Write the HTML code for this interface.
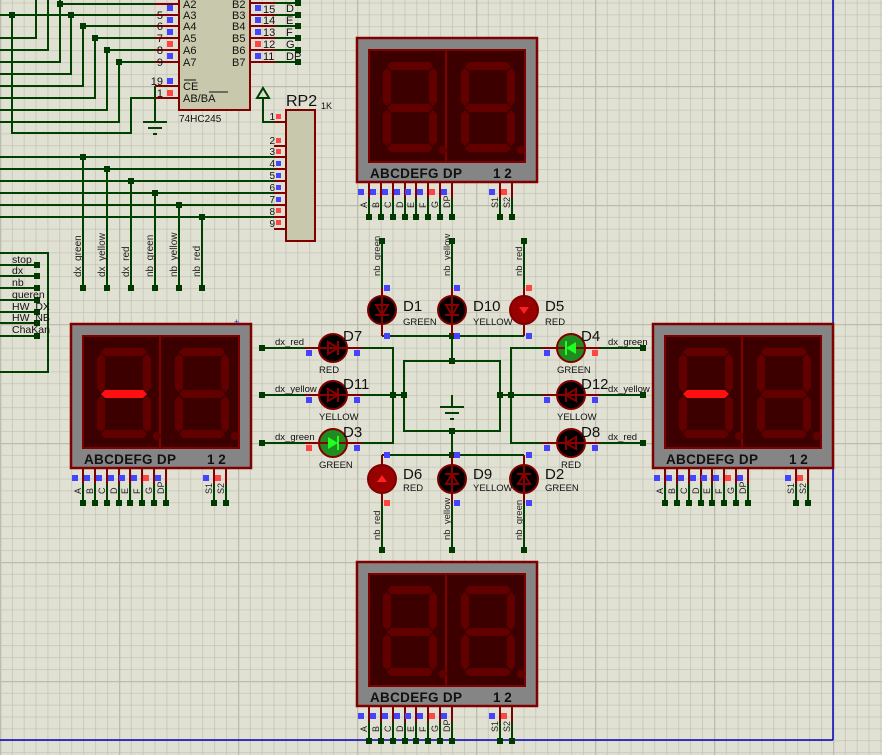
<!DOCTYPE html>
<html><head><meta charset="utf-8"><style>
html,body{margin:0;padding:0;background:#e0e0d3;}
svg{display:block;font-family:"Liberation Sans",sans-serif;}
</style></head><body>
<svg width="882" height="755" viewBox="0 0 882 755" xmlns="http://www.w3.org/2000/svg">
<defs>
<pattern id="minor" patternUnits="userSpaceOnUse" x="0" y="-33" width="11.9" height="11.9">
<path d="M0 0V11.9M0 0H11.9" stroke="#bfbfb1" stroke-width="1.3" fill="none"/>
</pattern>
<pattern id="major" patternUnits="userSpaceOnUse" x="0" y="-33" width="119" height="119">
<path d="M0 0V119M0 0H119" stroke="#bcbcae" stroke-width="2.6" fill="none"/>
</pattern>
<g id="digit" fill="#620000">
<polygon points="34,24 72,24 76,28 72,32 34,32 30,28"/>
<polygon points="34,66 72,66 76,70 72,74 34,74 30,70"/>
<polygon points="34,106 72,106 76,110 72,114 34,114 30,110"/>
<polygon points="30,30 34,34 34,64 30,68 26,64 26,34"/>
<polygon points="30,72 34,76 34,104 30,108 26,104 26,76"/>
<polygon points="76,30 80,34 80,64 76,68 72,64 72,34"/>
<polygon points="76,72 80,76 80,104 76,108 72,104 72,76"/>
<circle cx="86" cy="112" r="4"/>
</g>
<g id="pin">
<line x1="0" y1="144" x2="0" y2="160" stroke="#800000" stroke-width="2"/>
<line x1="0" y1="160" x2="0" y2="179" stroke="#004000" stroke-width="2"/>
<rect x="-3" y="176" width="6" height="6" fill="#003a00"/>
</g>
<g id="disp">
<rect x="0" y="0" width="180" height="144" fill="#858585" stroke="#800000" stroke-width="2.5"/>
<rect x="12" y="12" width="156" height="112" fill="#3d0000" stroke="#800000" stroke-width="2"/>
<line x1="89" y1="12" x2="89" y2="124" stroke="#800000" stroke-width="2"/>
<use href="#digit"/>
<use href="#digit" transform="translate(78,0)"/>
<text x="13" y="140" font-size="13.5" font-weight="bold" fill="#111" letter-spacing="0.3">ABCDEFG DP</text>
<text x="136" y="140" font-size="13.5" font-weight="bold" fill="#111">1 2</text>
<use href="#pin" x="12"/><use href="#pin" x="24"/><use href="#pin" x="36"/><use href="#pin" x="48"/>
<use href="#pin" x="59"/><use href="#pin" x="71"/><use href="#pin" x="83"/><use href="#pin" x="95"/>
<use href="#pin" x="143"/><use href="#pin" x="155"/>
<g fill="#4444ff"><rect x="1" y="151" width="6" height="6"/><rect x="13" y="151" width="6" height="6"/><rect x="25" y="151" width="6" height="6"/><rect x="37" y="151" width="6" height="6"/><rect x="48" y="151" width="6" height="6"/><rect x="60" y="151" width="6" height="6"/><rect x="84" y="151" width="6" height="6"/><rect x="132" y="151" width="6" height="6"/></g>
<g fill="#ff4444"><rect x="72" y="151" width="6" height="6"/><rect x="144" y="151" width="6" height="6"/></g>
<g font-size="9" fill="#222">
<text transform="translate(10,170) rotate(-90)">A</text><text transform="translate(22,170) rotate(-90)">B</text><text transform="translate(34,170) rotate(-90)">C</text><text transform="translate(46,170) rotate(-90)">D</text><text transform="translate(57,170) rotate(-90)">E</text><text transform="translate(69,170) rotate(-90)">F</text><text transform="translate(81,170) rotate(-90)">G</text><text transform="translate(93,170) rotate(-90)">DP</text><text transform="translate(141,170) rotate(-90)">S1</text><text transform="translate(153,170) rotate(-90)">S2</text>
</g>
</g>
<g id="diode" stroke="#8a0000" stroke-width="2" fill="none">
<line x1="-15" y1="0" x2="15" y2="0"/>
<polygon points="-5,-6 -5,6 5,0"/>
<line x1="5" y1="-7" x2="5" y2="7"/>
</g>
</defs>
<rect width="882" height="755" fill="#e0e0d3"/>
<rect width="882" height="755" fill="url(#minor)"/>
<rect width="882" height="755" fill="url(#major)"/>

<!-- blue border lines -->
<line x1="833" y1="0" x2="833" y2="740" stroke="#0000c0" stroke-width="1.5"/>
<line x1="0" y1="740" x2="833" y2="740" stroke="#0000c0" stroke-width="1.5"/>

<!-- top-left wires -->
<g stroke="#004000" stroke-width="2" fill="none">
<path d="M60 4H155"/>
<path d="M0 15H155"/>
<path d="M83 26H155M95 38H155M107 50H155M119 62H155"/>
<path d="M36 0V38H0"/>
<path d="M48 0V50H0"/>
<path d="M60 0V62H0"/>
<path d="M71 15V74H0"/>
<path d="M83 26V86H0"/>
<path d="M95 38V98H0"/>
<path d="M107 50V110H0"/>
<path d="M119 62V122H0"/>
<path d="M12 15V133H131V98H155"/>
<path d="M155 86V122"/>
<path d="M143 122H167M148 128H162M153 134H157"/>
</g>
<g fill="#003a00">
<rect x="57" y="1" width="6" height="6"/><rect x="9" y="12" width="6" height="6"/><rect x="68" y="12" width="6" height="6"/>
<rect x="80" y="23" width="6" height="6"/><rect x="92" y="35" width="6" height="6"/><rect x="104" y="47" width="6" height="6"/><rect x="116" y="59" width="6" height="6"/>
</g>
<!-- 74HC245 -->
<g stroke="#800000" stroke-width="2">
<path d="M155 4H179M155 15H179M155 26H179M155 38H179M155 50H179M155 62H179M155 86H179M155 98H179"/>
<path d="M250 3H275M250 15H275M250 26H275M250 38H275M250 50H275M250 62H275"/>
</g>
<g stroke="#004000" stroke-width="2"><path d="M275 3H298M275 15H298M275 26H298M275 38H298M275 50H298M275 62H298"/></g>
<g fill="#003a00"><rect x="295" y="0" width="6" height="6"/><rect x="295" y="12" width="6" height="6"/><rect x="295" y="23" width="6" height="6"/><rect x="295" y="35" width="6" height="6"/><rect x="295" y="47" width="6" height="6"/><rect x="295" y="59" width="6" height="6"/></g>
<rect x="179" y="-5" width="71" height="115" fill="#c8c8ac" stroke="#800000" stroke-width="2"/>
<g font-size="11" fill="#111">
<text x="183" y="8">A2</text><text x="183" y="19">A3</text><text x="183" y="30">A4</text><text x="183" y="42">A5</text><text x="183" y="54">A6</text><text x="183" y="66">A7</text>
<text x="183" y="90">CE</text><text x="183" y="102">AB/BA</text>
<text x="232" y="8">B2</text><text x="232" y="19">B3</text><text x="232" y="30">B4</text><text x="232" y="42">B5</text><text x="232" y="54">B6</text><text x="232" y="66">B7</text>
<text x="179" y="122" font-size="10">74HC245</text>
<text x="163" y="19" text-anchor="end">5</text><text x="163" y="30" text-anchor="end">6</text><text x="163" y="42" text-anchor="end">7</text><text x="163" y="54" text-anchor="end">8</text><text x="163" y="66" text-anchor="end">9</text><text x="163" y="85" text-anchor="end">19</text><text x="163" y="97" text-anchor="end">1</text>
<text x="263" y="13">15</text><text x="263" y="24">14</text><text x="263" y="36">13</text><text x="263" y="48">12</text><text x="263" y="60">11</text>
<text x="286" y="12">D</text><text x="286" y="24">E</text><text x="286" y="36">F</text><text x="286" y="48">G</text><text x="286" y="60">DP</text>
</g>
<g stroke="#111" stroke-width="1"><path d="M184 80H196M209 92H228"/></g>
<g fill="#4444ff"><rect x="167" y="5" width="6" height="6"/><rect x="167" y="17" width="6" height="6"/><rect x="167" y="29" width="6" height="6"/><rect x="167" y="53" width="6" height="6"/><rect x="167" y="78" width="6" height="6"/>
<rect x="255" y="5" width="6" height="6"/><rect x="255" y="17" width="6" height="6"/><rect x="255" y="29" width="6" height="6"/><rect x="255" y="53" width="6" height="6"/></g>
<g fill="#ff4444"><rect x="167" y="41" width="6" height="6"/><rect x="167" y="90" width="6" height="6"/><rect x="255" y="41" width="6" height="6"/></g>

<!-- power + RP2 -->
<g stroke="#004000" stroke-width="2" fill="none">
<path d="M263 98V122H274"/>
<polygon points="257,98 263,88 269,98"/>
</g>
<g stroke="#800000" stroke-width="2"><path d="M274 122H286M274 146H286M274 157H286M274 169H286M274 181H286M274 193H286M274 205H286M274 217H286M274 229H286"/></g>
<rect x="286" y="110" width="29" height="131" fill="#c8c8ac" stroke="#800000" stroke-width="2"/>
<text x="286" y="106" font-size="16" fill="#111">RP2</text>
<text x="321" y="109" font-size="9" fill="#111">1K</text>
<g font-size="10" fill="#111" text-anchor="end">
<text x="275" y="120">1</text><text x="275" y="144">2</text><text x="275" y="155">3</text><text x="275" y="167">4</text><text x="275" y="179">5</text><text x="275" y="191">6</text><text x="275" y="203">7</text><text x="275" y="215">8</text><text x="275" y="227">9</text>
</g>
<g fill="#ff4444"><rect x="276" y="114" width="5" height="5"/><rect x="276" y="138" width="5" height="5"/><rect x="276" y="149" width="5" height="5"/><rect x="276" y="208" width="5" height="5"/><rect x="276" y="220" width="5" height="5"/></g>
<g fill="#4444ff"><rect x="276" y="161" width="5" height="5"/><rect x="276" y="173" width="5" height="5"/><rect x="276" y="185" width="5" height="5"/><rect x="276" y="197" width="5" height="5"/></g>

<!-- bus lines to RP2 -->
<g stroke="#004000" stroke-width="2" fill="none">
<path d="M0 157H274M0 169H274M0 181H274M0 193H274M0 205H274M0 217H274"/>
<path d="M83 157V288M107 169V288M131 181V288M155 193V288M179 205V288M202 217V288"/>
</g>
<g fill="#003a00">
<rect x="80" y="154" width="6" height="6"/><rect x="104" y="166" width="6" height="6"/><rect x="128" y="178" width="6" height="6"/><rect x="152" y="190" width="6" height="6"/><rect x="176" y="202" width="6" height="6"/><rect x="199" y="214" width="6" height="6"/>
<rect x="80" y="285" width="6" height="6"/><rect x="104" y="285" width="6" height="6"/><rect x="128" y="285" width="6" height="6"/><rect x="152" y="285" width="6" height="6"/><rect x="176" y="285" width="6" height="6"/><rect x="199" y="285" width="6" height="6"/>
</g>
<g font-size="10" fill="#222">
<text transform="translate(81,277) rotate(-90)">dx_green</text>
<text transform="translate(105,277) rotate(-90)">dx_yellow</text>
<text transform="translate(129,277) rotate(-90)">dx_red</text>
<text transform="translate(153,277) rotate(-90)">nb_green</text>
<text transform="translate(177,277) rotate(-90)">nb_yellow</text>
<text transform="translate(200,277) rotate(-90)">nb_red</text>
</g>

<!-- left connector box -->
<g stroke="#004000" stroke-width="2" fill="none">
<path d="M0 253H48V372H0"/>
<path d="M0 265H37M0 276H37M0 288H37M0 300H37M0 312H37M0 323H37M0 336H37"/>
</g>
<g fill="#003a00"><rect x="34" y="262" width="6" height="6"/><rect x="34" y="273" width="6" height="6"/><rect x="34" y="285" width="6" height="6"/><rect x="34" y="297" width="6" height="6"/><rect x="34" y="309" width="6" height="6"/><rect x="34" y="320" width="6" height="6"/><rect x="34" y="333" width="6" height="6"/></g>
<g font-size="10.5" fill="#111">
<text x="12" y="263">stop</text><text x="12" y="274">dx</text><text x="12" y="286">nb</text><text x="12" y="298">queren</text><text x="12" y="310">HW_DX</text><text x="12" y="321">HW_NB</text><text x="12" y="333">ChaKan</text>
</g>

<!-- displays -->
<use href="#disp" x="357" y="38"/>
<use href="#disp" x="357" y="562"/>
<use href="#disp" x="71" y="324"/>
<use href="#disp" x="653" y="324"/>
<polygon transform="translate(71,324)" points="34,66 72,66 76,70 72,74 34,74 30,70" fill="#ff1010"/>
<polygon transform="translate(653,324)" points="34,66 72,66 76,70 72,74 34,74 30,70" fill="#ff1010"/>
<text x="234" y="325" font-size="9" fill="#2222cc">+</text>

<!-- center wiring -->
<g stroke="#004000" stroke-width="2" fill="none">
<path d="M382 241V288M452 241V288M524 241V288"/>
<path d="M382 336H524"/>
<path d="M262 348H305M262 395H305M262 443H305"/>
<path d="M362 348H393V443H362M362 395H404"/>
<path d="M643 348H600M643 395H600M643 443H600"/>
<path d="M542 348H511V443H542M542 395H500"/>
<rect x="404" y="361" width="96" height="70"/>
<path d="M452 336V361M452 431V455"/>
<path d="M382 455H524"/>
<path d="M382 503V550M452 503V550M524 503V550"/>
<path d="M440 407H464M445 413H459M450 419H454"/>
<path d="M452 395V407"/>
</g>
<g fill="#003a00">
<rect x="379" y="238" width="6" height="6"/><rect x="449" y="238" width="6" height="6"/><rect x="521" y="238" width="6" height="6"/>
<rect x="259" y="345" width="6" height="6"/><rect x="259" y="392" width="6" height="6"/><rect x="259" y="440" width="6" height="6"/>
<rect x="640" y="345" width="6" height="6"/><rect x="640" y="392" width="6" height="6"/><rect x="640" y="440" width="6" height="6"/>
<rect x="449" y="333" width="6" height="6"/><rect x="449" y="358" width="6" height="6"/><rect x="449" y="428" width="6" height="6"/><rect x="449" y="452" width="6" height="6"/>
<rect x="390" y="392" width="6" height="6"/><rect x="401" y="392" width="6" height="6"/><rect x="497" y="392" width="6" height="6"/><rect x="508" y="392" width="6" height="6"/>
<rect x="379" y="547" width="6" height="6"/><rect x="449" y="547" width="6" height="6"/><rect x="521" y="547" width="6" height="6"/>
</g>
<!-- LED leads -->
<g stroke="#800000" stroke-width="2">
<path d="M382 288V336M452 288V336M524 288V336"/>
<path d="M305 348H362M305 395H362M305 443H362"/>
<path d="M542 348H600M542 395H600M542 443H600"/>
<path d="M382 455V503M452 455V503M524 455V503"/>
</g>
<!-- LED bodies -->
<g stroke="#800000" stroke-width="2">
<circle cx="382" cy="310" r="14" fill="#000"/>
<circle cx="452" cy="310" r="14" fill="#000"/>
<circle cx="524" cy="310" r="14" fill="#990000"/>
<circle cx="333" cy="348" r="14" fill="#000"/>
<circle cx="333" cy="395" r="14" fill="#000"/>
<circle cx="333" cy="443" r="14" fill="#1e8c1e"/>
<circle cx="571" cy="348" r="14" fill="#1e8c1e"/>
<circle cx="571" cy="395" r="14" fill="#000"/>
<circle cx="571" cy="443" r="14" fill="#000"/>
<circle cx="382" cy="479" r="14" fill="#990000"/>
<circle cx="452" cy="479" r="14" fill="#000"/>
<circle cx="524" cy="479" r="14" fill="#000"/>
</g>
<use href="#diode" transform="translate(382,310) rotate(90)"/>
<use href="#diode" transform="translate(452,310) rotate(90)"/>
<use href="#diode" transform="translate(333,348)"/>
<use href="#diode" transform="translate(333,395)"/>
<use href="#diode" transform="translate(571,395) rotate(180)"/>
<use href="#diode" transform="translate(571,443) rotate(180)"/>
<use href="#diode" transform="translate(452,479) rotate(-90)"/>
<use href="#diode" transform="translate(524,479) rotate(-90)"/>
<polygon points="519,307 529,307 524,314" fill="#ff2020"/>
<polygon points="377,482 387,482 382,475" fill="#ff2020"/>
<g stroke="#8a0000" stroke-width="2"><line x1="319" y1="443" x2="347" y2="443"/><line x1="557" y1="348" x2="585" y2="348"/></g>
<polygon points="328,437 328,449 338,443" fill="#20ff20"/><line x1="338" y1="436" x2="338" y2="450" stroke="#20ff20" stroke-width="2"/>
<polygon points="576,342 576,354 566,348" fill="#20ff20"/><line x1="566" y1="341" x2="566" y2="355" stroke="#20ff20" stroke-width="2"/>
<!-- LED pin squares -->
<g fill="#4444ff">
<rect x="384" y="285" width="6" height="6"/><rect x="384" y="333" width="6" height="6"/>
<rect x="454" y="285" width="6" height="6"/><rect x="454" y="333" width="6" height="6"/>
<rect x="526" y="333" width="6" height="6"/>
<rect x="306" y="350" width="6" height="6"/><rect x="354" y="350" width="6" height="6"/>
<rect x="306" y="397" width="6" height="6"/><rect x="354" y="397" width="6" height="6"/>
<rect x="354" y="445" width="6" height="6"/>
<rect x="544" y="350" width="6" height="6"/>
<rect x="544" y="397" width="6" height="6"/><rect x="592" y="397" width="6" height="6"/>
<rect x="544" y="445" width="6" height="6"/><rect x="592" y="445" width="6" height="6"/>
<rect x="384" y="452" width="6" height="6"/>
<rect x="454" y="452" width="6" height="6"/><rect x="454" y="500" width="6" height="6"/>
<rect x="526" y="452" width="6" height="6"/><rect x="526" y="500" width="6" height="6"/>
</g>
<g fill="#ff4444">
<rect x="526" y="285" width="6" height="6"/><rect x="306" y="445" width="6" height="6"/><rect x="592" y="350" width="6" height="6"/><rect x="384" y="500" width="6" height="6"/>
</g>
<!-- LED labels -->
<g font-size="15" fill="#111">
<text x="403" y="311">D1</text><text x="473" y="311">D10</text><text x="545" y="311">D5</text>
<text x="343" y="341">D7</text><text x="343" y="389">D11</text><text x="343" y="437">D3</text>
<text x="581" y="341">D4</text><text x="581" y="389">D12</text><text x="581" y="437">D8</text>
<text x="403" y="479">D6</text><text x="473" y="479">D9</text><text x="545" y="479">D2</text>
</g>
<g font-size="9.5" fill="#111">
<text x="403" y="325">GREEN</text><text x="473" y="325">YELLOW</text><text x="545" y="325">RED</text>
<text x="319" y="373">RED</text><text x="319" y="420">YELLOW</text><text x="319" y="468">GREEN</text>
<text x="557" y="373">GREEN</text><text x="557" y="420">YELLOW</text><text x="561" y="468">RED</text>
<text x="403" y="491">RED</text><text x="473" y="491">YELLOW</text><text x="545" y="491">GREEN</text>
<text x="275" y="345">dx_red</text><text x="275" y="392">dx_yellow</text><text x="275" y="440">dx_green</text>
<text x="608" y="345">dx_green</text><text x="608" y="392">dx_yellow</text><text x="608" y="440">dx_red</text>
</g>
<g font-size="9.5" fill="#222">
<text transform="translate(380,276) rotate(-90)">nb_green</text>
<text transform="translate(450,276) rotate(-90)">nb_yellow</text>
<text transform="translate(522,276) rotate(-90)">nb_red</text>
<text transform="translate(380,540) rotate(-90)">nb_red</text>
<text transform="translate(450,540) rotate(-90)">nb_yellow</text>
<text transform="translate(522,540) rotate(-90)">nb_green</text>
</g>
</svg>
</body></html>
